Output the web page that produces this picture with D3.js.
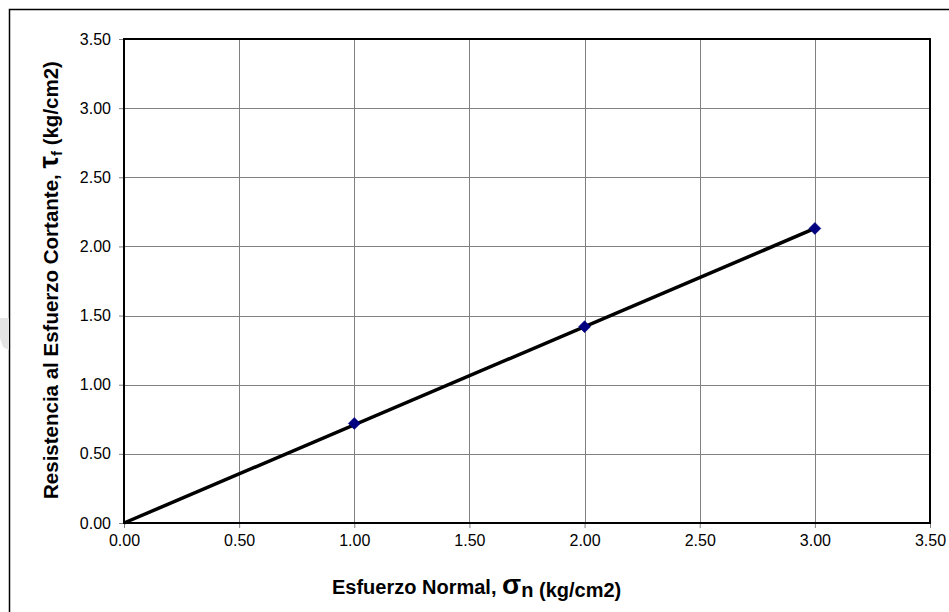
<!DOCTYPE html>
<html>
<head>
<meta charset="utf-8">
<script src="https://cdn.jsdelivr.net/npm/d3@7"></script>
<style>
  html, body { margin: 0; padding: 0; background: #fff; }
  svg { display: block; }
  text { font-family: "Liberation Sans", Arial, sans-serif; }
</style>
</head>
<body>
<svg id="chart" width="949" height="612"></svg>
<script>
// Ensayo de corte: esfuerzo normal vs. resistencia al esfuerzo cortante
const normalStress = [1.0, 2.0, 3.0];          // σn (kg/cm2)
const shearStrength = [0.72, 1.42, 2.13];      // τf (kg/cm2)
const envelopeX = [0.0, 3.0];                  // envolvente de falla
const envelopeY = [0.0, 2.13];
const tickValues = [0, 0.5, 1.0, 1.5, 2.0, 2.5, 3.0, 3.5];

const svg = d3.select("#chart");
const W = 949, H = 612;
const m = { left: 124, right: 930, top: 39, bottom: 523 };

const x = d3.scaleLinear().domain([0, 3.5]).range([m.left, m.right]);
const y = d3.scaleLinear().domain([0, 3.5]).range([m.bottom, m.top]);

// marco exterior
svg.append("rect").attr("x", 9.5).attr("y", 9.5)
  .attr("width", W).attr("height", H)
  .attr("fill", "#fff").attr("stroke", "#000").attr("stroke-width", 1.5);

// marca gris en el borde izquierdo
svg.append("path")
  .attr("d", "M0,318 L9,318 L9,350 L3,347 L0,338 Z")
  .attr("fill", "#e4e4e4");

// cuadrícula
const grid = svg.append("g").attr("stroke", "#808080").attr("stroke-width", 1);
tickValues.forEach(v => {
  grid.append("line").attr("x1", Math.round(x(v)) + 0.5).attr("x2", Math.round(x(v)) + 0.5)
    .attr("y1", m.top).attr("y2", m.bottom);
  grid.append("line").attr("y1", Math.round(y(v)) + 0.5).attr("y2", Math.round(y(v)) + 0.5)
    .attr("x1", m.left).attr("x2", m.right);
});

// ejes
const fmt = d3.format(".2f");
const xAxis = svg.append("g").attr("transform", `translate(0,${m.bottom})`)
  .call(d3.axisBottom(x).tickValues(tickValues).tickFormat(fmt).tickSize(5).tickSizeOuter(0));
const yAxis = svg.append("g").attr("transform", `translate(${m.left},0)`)
  .call(d3.axisLeft(y).tickValues(tickValues).tickFormat(fmt).tickSize(5).tickSizeOuter(0));
[xAxis, yAxis].forEach(g => {
  g.attr("font-size", 16).attr("font-family", "Liberation Sans, Arial, sans-serif");
  g.select(".domain").remove();
  g.selectAll(".tick line").attr("stroke", "#808080");
  g.selectAll(".tick text").attr("fill", "#000");
});
xAxis.selectAll(".tick text").attr("y", 12).attr("dy", "0.71em");
yAxis.selectAll(".tick text").attr("x", -13);

// borde del área de trazado
svg.append("rect").attr("x", m.left).attr("y", m.top)
  .attr("width", m.right - m.left).attr("height", m.bottom - m.top)
  .attr("fill", "none").attr("stroke", "#000").attr("stroke-width", 2);

// envolvente
svg.append("path")
  .datum(envelopeX.map((v, i) => [v, envelopeY[i]]))
  .attr("d", d3.line().x(d => x(d[0])).y(d => y(d[1])))
  .attr("fill", "none").attr("stroke", "#000").attr("stroke-width", 3.5);

// puntos
svg.append("g").selectAll("path")
  .data(normalStress.map((v, i) => [v, shearStrength[i]]))
  .join("path")
  .attr("transform", d => `translate(${x(d[0])},${y(d[1])})`)
  .attr("d", "M0,-6 L6,0 L0,6 L-6,0 Z")
  .attr("fill", "#000080").attr("stroke", "#000080").attr("stroke-width", 0.5);

// título eje X
const xt = svg.append("text").attr("x", 332).attr("y", 594)
  .attr("text-anchor", "start").attr("font-weight", "bold").attr("font-size", 20);
xt.append("tspan").text("Esfuerzo Normal, ");
xt.append("tspan").attr("font-size", 28).text("σ");
xt.append("tspan").attr("dy", 3).text("n (kg/cm2)");

// título eje Y
const yt = svg.append("text")
  .attr("transform", "translate(58,280) rotate(-90)")
  .attr("text-anchor", "middle").attr("font-weight", "bold").attr("font-size", 20.5);
yt.append("tspan").text("Resistencia al Esfuerzo Cortante, ");
yt.append("tspan").attr("font-size", 28).text("τ");
yt.append("tspan").attr("dy", 4).attr("font-size", 15).text("f");
yt.append("tspan").attr("dy", -4).text(" (kg/cm2)");
</script>
</body>
</html>
